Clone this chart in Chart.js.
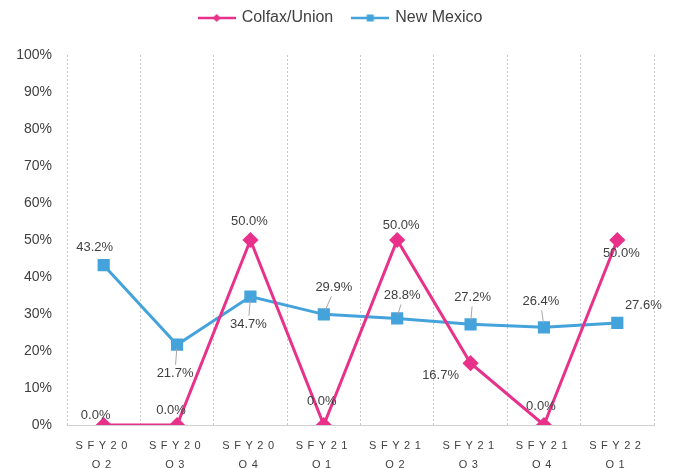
<!DOCTYPE html>
<html>
<head>
<meta charset="utf-8">
<script src="https://cdn.jsdelivr.net/npm/chart.js@4"></script>
<style>
  html, body { margin: 0; padding: 0; background: #fff; }
  #wrap { width: 678px; height: 468px; position: relative; }
</style>
</head>
<body>
<div id="wrap"><canvas id="rateChart"></canvas></div>
<script>
// Quarter labels (two lines each)
const quarters = [
  ['SFY20', 'Q2'], ['SFY20', 'Q3'], ['SFY20', 'Q4'],
  ['SFY21', 'Q1'], ['SFY21', 'Q2'], ['SFY21', 'Q3'],
  ['SFY21', 'Q4'], ['SFY22', 'Q1']
];
const colfaxUnion = [0.0, 0.0, 50.0, 0.0, 50.0, 16.7, 0.0, 50.0];
const newMexico = [43.2, 21.7, 34.7, 29.9, 28.8, 27.2, 26.4, 27.6];
const yTicks = [0, 10, 20, 30, 40, 50, 60, 70, 80, 90, 100];

const PINK = '#E8318A';
const BLUE = '#45A3DC';
const FONT = "'Liberation Sans', Arial, sans-serif";

// label placement relative to each point: [dx, dy, leader line?]
const colfaxLabelPos = [[-8, -10, 0], [-6, -15, 0], [-1, -19, 0], [-2, -24, 0],
  [4, -15, 0], [-30, 12, 0], [-3, -19, 0], [4, 13, 0]];
const nmLabelPos = [[-9, -18, 0], [-2, 29, 1], [-2, 28, 1], [10, -27, 1],
  [5, -23, 1], [2, -27, 1], [-3, -26, 1], [26, -17, 0]];

// small line+marker swatch for the legend
function legendSwatch(color, shape) {
  const c = document.createElement('canvas');
  c.width = 38; c.height = 12;
  const g = c.getContext('2d');
  g.strokeStyle = color;
  g.lineWidth = 2.5;
  g.beginPath(); g.moveTo(0, 6); g.lineTo(38, 6); g.stroke();
  g.fillStyle = color;
  g.beginPath();
  if (shape === 'diamond') {
    g.moveTo(19, 2); g.lineTo(23, 6); g.lineTo(19, 10); g.lineTo(15, 6);
  } else {
    g.rect(15.5, 2.5, 7, 7);
  }
  g.fill();
  return c;
}
const swatches = [legendSwatch(PINK, 'diamond'), legendSwatch(BLUE, 'square')];

const layoutTweaks = {
  id: 'layoutTweaks',
  // fixed legend height so the plot starts at the right place
  beforeInit(chart) {
    const legend = chart.legend;
    const origFit = legend.fit;
    legend.fit = function () {
      origFit.call(this);
      this.height = 65;
    };
  },
  // nudge the legend towards the canvas centre
  afterLayout(chart) {
    chart.legend.left += 14;
    chart.legend.right += 14;
  },
  // spread the category letters apart
  beforeDraw(chart) {
    const xs = chart.scales.x;
    if (xs && !xs._spaced) {
      const origDraw = xs.drawLabels;
      xs.drawLabels = function (area) {
        const ctx = this.ctx;
        ctx.save();
        ctx.letterSpacing = '4.5px';
        origDraw.call(this, area);
        ctx.restore();
      };
      xs._spaced = true;
    }
  }
};

const valueLabels = {
  id: 'valueLabels',
  afterDatasetsDraw(chart) {
    const ctx = chart.ctx;
    const placements = [colfaxLabelPos, nmLabelPos];
    ctx.save();
    ctx.font = '13px ' + FONT;
    ctx.textAlign = 'center';
    ctx.textBaseline = 'middle';
    chart.data.datasets.forEach((ds, di) => {
      const meta = chart.getDatasetMeta(di);
      meta.data.forEach((pt, i) => {
        const [dx, dy, leader] = placements[di][i];
        const lx = pt.x + dx, ly = pt.y + dy;
        if (leader) {
          const s = Math.sign(dy);
          ctx.strokeStyle = '#a6a6a6';
          ctx.lineWidth = 1;
          ctx.beginPath();
          ctx.moveTo(pt.x + dx * 0.15, pt.y + s * 4);
          ctx.lineTo(lx - dx * 0.25, ly - s * 9);
          ctx.stroke();
        }
        ctx.fillStyle = '#404040';
        ctx.fillText(ds.data[i].toFixed(1) + '%', lx, ly);
      });
    });
    ctx.restore();
  }
};

new Chart(document.getElementById('rateChart'), {
  type: 'line',
  data: {
    labels: quarters,
    datasets: [
      {
        label: 'Colfax/Union',
        data: colfaxUnion,
        borderColor: PINK,
        backgroundColor: PINK,
        borderWidth: 3,
        pointStyle: 'rectRot',
        pointRadius: 6,
        pointHoverRadius: 6,
        tension: 0
      },
      {
        label: 'New Mexico',
        data: newMexico,
        borderColor: BLUE,
        backgroundColor: BLUE,
        borderWidth: 3,
        pointStyle: 'rect',
        pointRadius: 6.5,
        pointHoverRadius: 6.5,
        tension: 0
      }
    ]
  },
  options: {
    responsive: true,
    maintainAspectRatio: false,
    animation: false,
    layout: { padding: { top: -10, right: 24, bottom: 0, left: 0 } },
    plugins: {
      tooltip: { enabled: false },
      legend: {
        position: 'top',
        labels: {
          font: { family: FONT, size: 16 },
          color: '#404040',
          padding: 20,
          usePointStyle: true,
          pointStyleWidth: 34,
          generateLabels(chart) {
            return chart.data.datasets.map((ds, i) => ({
              text: ds.label,
              pointStyle: swatches[i],
              fillStyle: ds.borderColor,
              strokeStyle: ds.borderColor,
              fontColor: '#404040',
              datasetIndex: i,
              hidden: false,
              lineWidth: 0
            }));
          }
        }
      }
    },
    scales: {
      x: {
        offset: true,
        grid: {
          display: true,
          offset: true,
          color: '#c8c8c8',
          drawTicks: false
        },
        border: { display: true, color: '#d0d0d0', dash: [2, 2] },
        ticks: {
          font: { family: FONT, size: 11, lineHeight: 1.7 },
          color: '#404040',
          padding: 12,
          maxRotation: 0,
          autoSkip: false
        },
        afterFit(scale) { scale.height = 43; }
      },
      y: {
        min: 0,
        max: 100,
        afterBuildTicks(scale) { scale.ticks = yTicks.map(v => ({ value: v })); },
        grid: { display: false },
        border: { display: false },
        ticks: {
          font: { family: FONT, size: 14 },
          color: '#404040',
          padding: 7,
          callback: v => v + '%'
        },
        afterFit(scale) { scale.width = 67; }
      }
    }
  },
  plugins: [layoutTweaks, valueLabels]
});
</script>
</body>
</html>
